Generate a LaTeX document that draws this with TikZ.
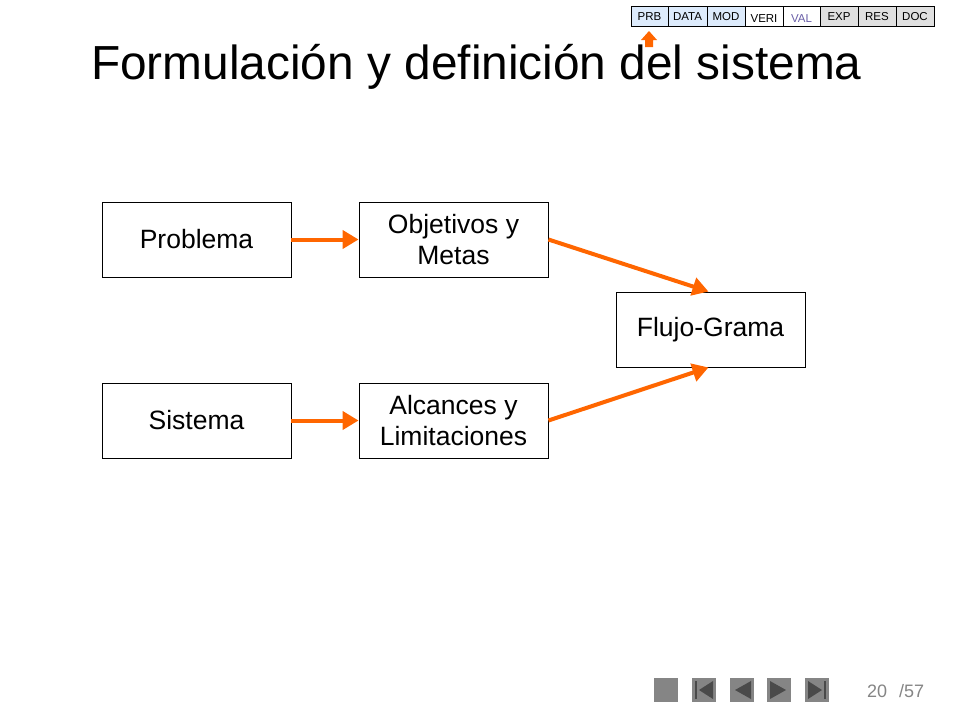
\documentclass[tikz,border=0pt]{standalone}
\usepackage{fontspec}
\setmainfont{Liberation Sans}
\usetikzlibrary{arrows.meta,calc}
\definecolor{orng}{HTML}{FF6600}
\definecolor{navblue}{HTML}{DDEBFC}
\definecolor{navgray}{HTML}{E0E0E0}
\definecolor{valtxt}{HTML}{6A5FA8}
\definecolor{btngray}{HTML}{858585}
\definecolor{btndark}{HTML}{4A4A4A}
\begin{document}
\begin{tikzpicture}[x=1pt,y=-1pt,
  boxnode/.style={draw=black,line width=0.9pt,fill=white,minimum width=189pt,minimum height=75pt,
    inner sep=0pt,align=center,font=\fontsize{26.5}{31.5}\selectfont},
  flowarrow/.style={draw=orng,line width=4pt,-{Triangle[length=16pt,width=18pt]}},
  navcell/.style={draw=black,line width=0.6pt,minimum height=20pt,inner sep=0pt},
  navtext/.style={font=\fontsize{11.5}{12}\selectfont,inner sep=0pt,anchor=base},
  btn/.style={fill=btngray,draw=none},
  btnmark/.style={fill=btndark,draw=none}
]
\useasboundingbox[fill=white] (0,0) rectangle (960,720);

% title
\node[anchor=base west,inner sep=0pt,font=\fontsize{47.8}{56}\selectfont] (title) at (91,79) {Formulación y definición del sistema};

% navigation bar
\node[navcell,fill=navblue,minimum width=37pt] (prb) at (649.5,16) {};
\node[navcell,fill=navblue,minimum width=39pt] (data) at (687.5,16) {};
\node[navcell,fill=navblue,minimum width=38pt] (mod) at (726,16) {};
\node[navcell,fill=white,minimum width=38pt] (veri) at (764,16) {};
\node[navcell,fill=white,minimum width=37pt] (val) at (801.5,16) {};
\node[navcell,fill=navgray,minimum width=38pt] (exp) at (839,16) {};
\node[navcell,fill=navgray,minimum width=38pt] (res) at (877,16) {};
\node[navcell,fill=navgray,minimum width=38pt] (doc) at (915,16) {};
\node[navtext] (tprb) at (649.5,20) {PRB};
\node[navtext] (tdata) at (687.5,20) {DATA};
\node[navtext] (tmod) at (726,20) {MOD};
\node[navtext] (tveri) at (764,22) {VERI};
\node[navtext,text=valtxt] (tval) at (801.5,22) {VAL};
\node[navtext] (texp) at (839,20) {EXP};
\node[navtext] (tres) at (877,20) {RES};
\node[navtext] (tdoc) at (915,20) {DOC};

% position marker (block arrow up)
\fill[orng] (645,47) -- (645,40) -- (641,40) -- (649,31) -- (657,40) -- (653,40) -- (653,47) -- cycle;

% diagram boxes
\node[boxnode] (problema) at (196.5,239.5) {Problema};
\node[boxnode] (objetivos) at (453.5,239.5) {Objetivos y\\Metas};
\node[boxnode] (sistema) at (196.5,420.5) {Sistema};
\node[boxnode] (alcances) at (453.5,420.5) {Alcances y\\Limitaciones};
\node[boxnode] (flujo) at (710.5,329.5) {Flujo-Grama};

% connectors
\draw[flowarrow] (problema.east) -- (objetivos.west);
\draw[flowarrow] (sistema.east) -- (alcances.west);
\draw[flowarrow] (objetivos.east) -- ($(flujo.north)+(-2,0)$);
\draw[flowarrow] (alcances.east) -- ($(flujo.south)+(-2,0)$);

% navigation buttons
\fill[btn] (654,678) rectangle (678,702);
\fill[btn] (692,678) rectangle (716,702);
\fill[btnmark] (695,681) rectangle (697,699);
\fill[btnmark] (713,681) -- (713,699) -- (699,690) -- cycle;
\fill[btn] (730,678) rectangle (754,702);
\fill[btnmark] (751,681) -- (751,699) -- (735,690) -- cycle;
\fill[btn] (767,678) rectangle (791,702);
\fill[btnmark] (770,681) -- (770,699) -- (786,690) -- cycle;
\fill[btn] (805,678) rectangle (829,702);
\fill[btnmark] (808,681) -- (808,699) -- (822,690) -- cycle;
\fill[btnmark] (824,681) rectangle (826,699);

% page number
\node[anchor=base west,inner sep=0pt,text=btngray,font=\fontsize{18}{20}\selectfont] (pagenum) at (867,697) {20};
\node[anchor=base west,inner sep=0pt,text=btngray,font=\fontsize{18}{20}\selectfont] (pagetot) at (899,697) {/57};
\end{tikzpicture}
\end{document}
